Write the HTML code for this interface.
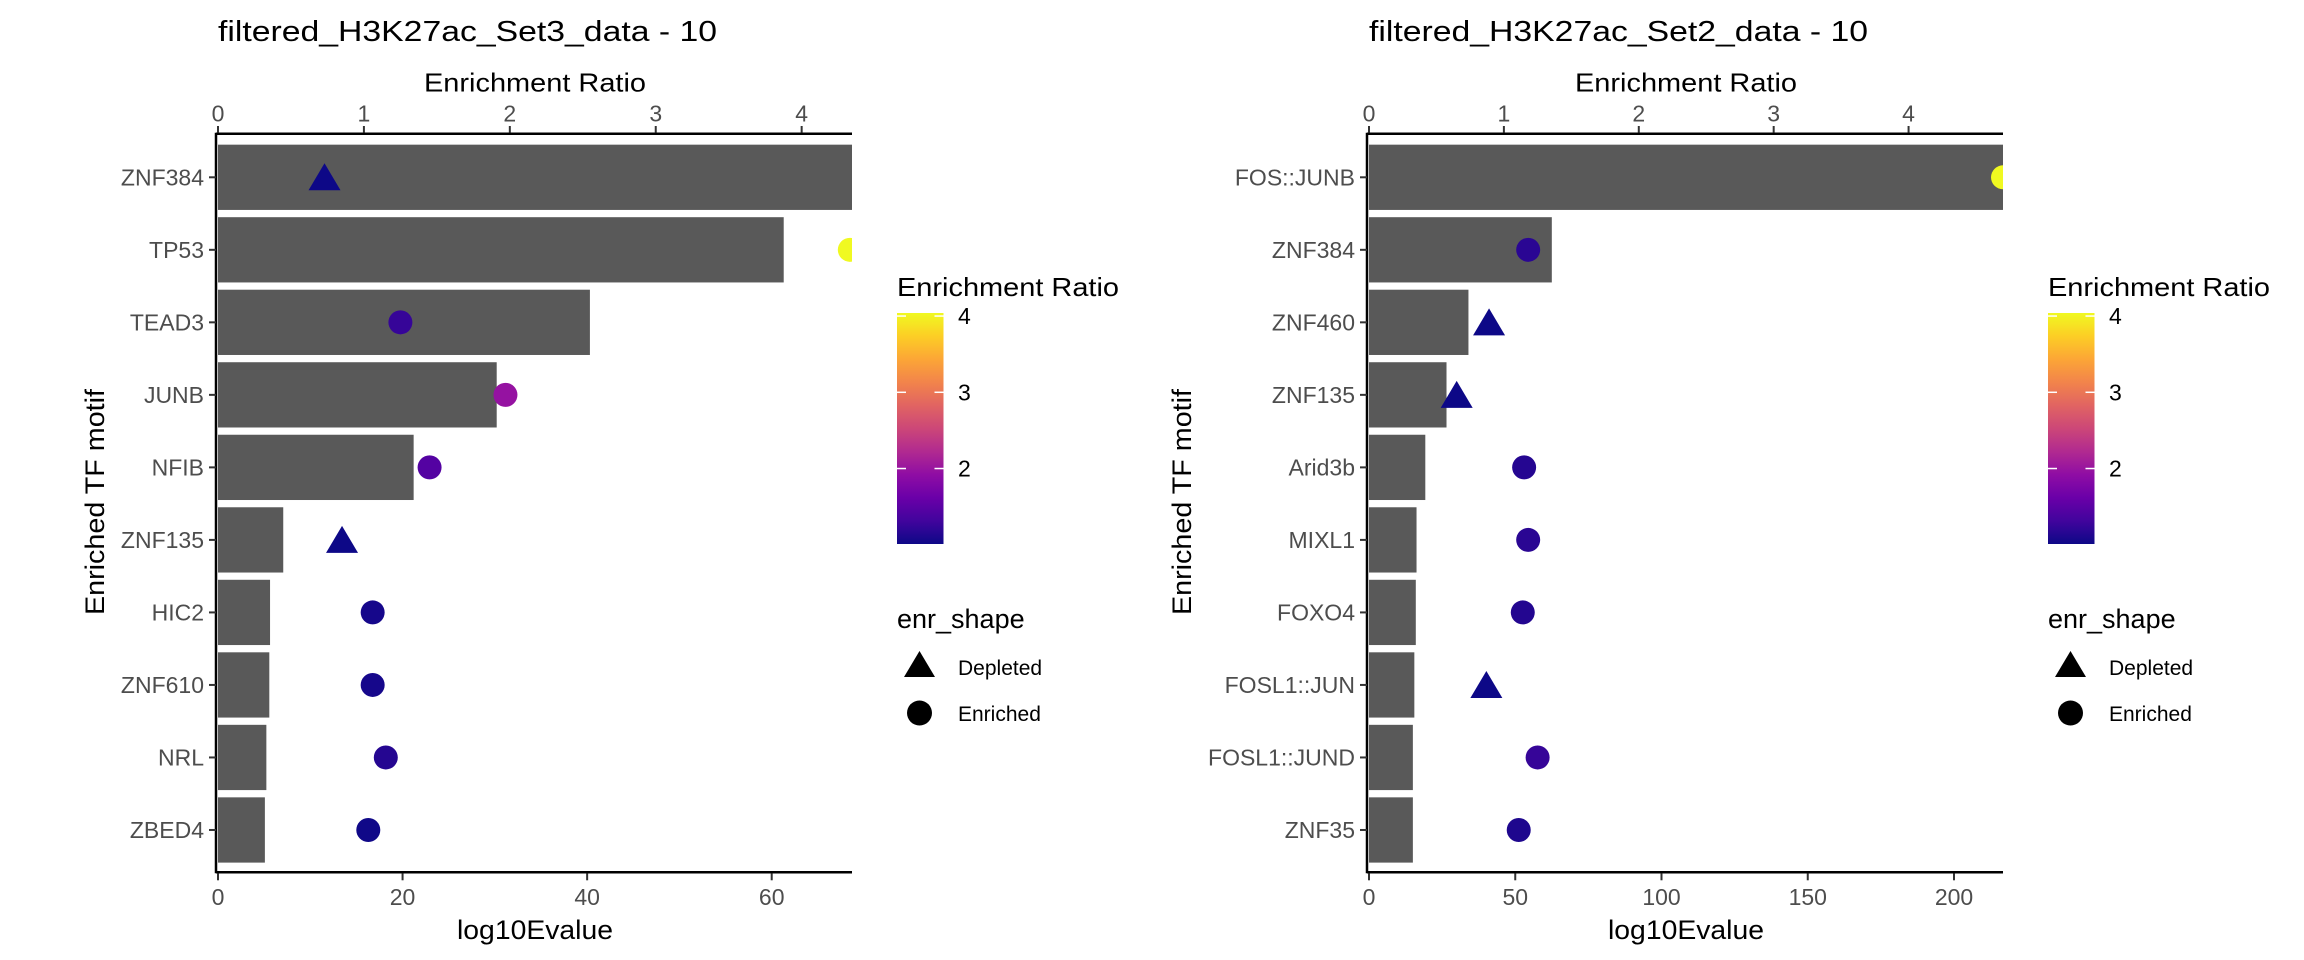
<!DOCTYPE html>
<html><head><meta charset="utf-8">
<style>
html,body{margin:0;padding:0;background:#fff;}
svg{display:block;font-family:"Liberation Sans",Arial,sans-serif;}
</style></head>
<body>
<svg id="chart" width="2304" height="960" viewBox="0 0 2304 960" xmlns="http://www.w3.org/2000/svg">
<defs>
<linearGradient id="plasma" x1="0" y1="1" x2="0" y2="0">
<stop offset="0" stop-color="#0d0887"/><stop offset="0.1" stop-color="#41049d"/><stop offset="0.2" stop-color="#6a00a8"/><stop offset="0.3" stop-color="#8f0da4"/><stop offset="0.4" stop-color="#b12a90"/><stop offset="0.5" stop-color="#cc4778"/><stop offset="0.6" stop-color="#e16462"/><stop offset="0.7" stop-color="#f2844b"/><stop offset="0.8" stop-color="#fca636"/><stop offset="0.9" stop-color="#fcce25"/><stop offset="1" stop-color="#f0f921"/>
</linearGradient>
</defs>
</svg>
<script>
// ---- Panel 1 data (Set3) ----
const motifs1 = ["ZNF384","TP53","TEAD3","JUNB","NFIB","ZNF135","HIC2","ZNF610","NRL","ZBED4"];
const evalue1 = [68.7,61.3,40.3,30.2,21.2,7.07,5.64,5.56,5.24,5.08];
const ratio1 = [0.73,4.33,1.25,1.97,1.45,0.85,1.06,1.06,1.15,1.03];
const shape1 = ["Depleted","Enriched","Enriched","Enriched","Enriched","Depleted","Enriched","Enriched","Enriched","Enriched"];
const xTicks1 = [0,20,40,60];
const erTicks1 = [0,1,2,3,4];
// ---- Panel 2 data (Set2) ----
const motifs2 = ["FOS::JUNB","ZNF384","ZNF460","ZNF135","Arid3b","MIXL1","FOXO4","FOSL1::JUN","FOSL1::JUND","ZNF35"];
const evalue2 = [216.75,62.5,34,26.5,19.25,16.25,16,15.5,15,15];
const ratio2 = [4.70,1.18,0.89,0.65,1.15,1.18,1.14,0.87,1.25,1.11];
const shape2 = ["Enriched","Enriched","Depleted","Depleted","Enriched","Enriched","Enriched","Depleted","Enriched","Enriched"];
const xTicks2 = [0,50,100,150,200];
const erTicks2 = [0,1,2,3,4];
const colorTicks = [2,3,4];
const colorMin = 1.01, colorMax = 4.04;

const NS = "http://www.w3.org/2000/svg";
const svg = document.getElementById('chart');
const plasma = ["#0d0887","#41049d","#6a00a8","#8f0da4","#b12a90","#cc4778","#e16462","#f2844b","#fca636","#fcce25","#f0f921"];
function hex(c){return [1,3,5].map(i=>parseInt(c.substr(i,2),16));}
function colorFor(v){
  let t=(v-colorMin)/(colorMax-colorMin); t=Math.max(0,Math.min(1,t));
  const p=t*10, i=Math.min(9,Math.floor(p)), f=p-i;
  const a=hex(plasma[i]), b=hex(plasma[i+1]);
  return "rgb("+a.map((x,k)=>Math.round(x+(b[k]-x)*f)).join(",")+")";
}
function el(tag, attrs, parent){
  const e=document.createElementNS(NS,tag);
  for(const k in attrs) e.setAttribute(k,attrs[k]);
  (parent||svg).appendChild(e); return e;
}
function txt(s, attrs, parent){const t=el('text',attrs,parent); t.textContent=s; return t;}

function panel(ox, id, title, motifs, evals, ratios, shapes, xTicks, erTicks, xMax, erMax){
  const L=ox+218, R=ox+852, T=133.7, B=872.3;
  const g=el('g',{});
  
  
  const xs=v=>L+(v/xMax)*(R-L);
  const es=v=>L+(v/erMax)*(R-L);
  const band=72.52, y0=177.3;
  const ys=i=>y0+i*band;
  const cp=el('clipPath',{id:'clip-'+id},g);
  el('rect',{x:L,y:T,width:R-L,height:B-T},cp);

  const t=txt(title,{x:L,y:41,'font-size':29,fill:'#000',textLength:499,lengthAdjust:'spacingAndGlyphs'},g);
  
  

  // bars
  motifs.forEach((m,i)=>{
    const r=el('rect',{x:L,y:ys(i)-band*0.45,width:xs(evals[i])-L,height:band*0.9,fill:'#595959','clip-path':'url(#clip-'+id+')'},g);
    
    
  });
  // points
  motifs.forEach((m,i)=>{
    const cx=es(ratios[i]), cy=ys(i), c=colorFor(ratios[i]);
    let p;
    if(shapes[i]==="Depleted"){
      p=el('polygon',{points:(cx-16)+','+(cy+13)+' '+(cx+16)+','+(cy+13)+' '+cx+','+(cy-14),fill:c,'clip-path':'url(#clip-'+id+')'},g);
    } else {
      p=el('circle',{cx:cx,cy:cy,r:12,fill:c,'clip-path':'url(#clip-'+id+')'},g);
    }
    
    
  });
  // axes lines
  const ax=el('path',{d:`M${L-2},${T} H${R} M${L-2},${B} H${R} M${L-2},${T-1} V${B+1}`,stroke:'#000','stroke-width':2.5,fill:'none'},g);
  
  
  // y labels
  motifs.forEach((m,i)=>{
    el('line',{x1:L-9,x2:L-2,y1:ys(i),y2:ys(i),stroke:'#333','stroke-width':2},g);
    const lb=txt(m,{x:L-14,y:ys(i)+8,'font-size':23,fill:'#4d4d4d','text-anchor':'end'},g);
    
    
  });
  // bottom ticks
  xTicks.forEach(v=>{
    const x=xs(v);
    el('line',{x1:x,x2:x,y1:B+1,y2:B+8,stroke:'#333','stroke-width':2},g);
    const lb=txt(String(v),{x:x,y:905,'font-size':23,fill:'#4d4d4d','text-anchor':'middle'},g);
    
    
  });
  // top ticks
  erTicks.forEach(v=>{
    const x=es(v);
    el('line',{x1:x,x2:x,y1:126,y2:T-1,stroke:'#333','stroke-width':2},g);
    const lb=txt(String(v),{x:x,y:121.7,'font-size':23,fill:'#4d4d4d','text-anchor':'middle'},g);
    
    
  });
  const xt=txt('log10Evalue',{x:(L+R)/2,y:939,'font-size':27,fill:'#000','text-anchor':'middle',textLength:156,lengthAdjust:'spacingAndGlyphs'},g);
  
  
  const tt=txt('Enrichment Ratio',{x:(L+R)/2,y:91.7,'font-size':26,fill:'#000','text-anchor':'middle',textLength:222,lengthAdjust:'spacingAndGlyphs'},g);
  
  
  const yx = id==='set3' ? ox+104 : ox+40;
  const yt=txt('Enriched TF motif',{x:yx,y:502,'font-size':27,fill:'#000','text-anchor':'middle',transform:`rotate(-90 ${yx} 502)`,textLength:226,lengthAdjust:'spacingAndGlyphs'},g);
  
  

  // color legend
  const lx=ox+897;
  const lt=txt('Enrichment Ratio',{x:lx,y:296,'font-size':26,fill:'#000',textLength:222,lengthAdjust:'spacingAndGlyphs'},g);
  
  
  const cb=el('rect',{x:lx,y:313,width:46.5,height:231,fill:'url(#plasma)'},g);
  
  
  const cy=v=>544-(v-colorMin)/(colorMax-colorMin)*231;
  colorTicks.forEach(v=>{
    const y=cy(v);
    el('line',{x1:lx,x2:lx+9,y1:y,y2:y,stroke:'#fff','stroke-width':1.5},g);
    el('line',{x1:lx+37.5,x2:lx+46.5,y1:y,y2:y,stroke:'#fff','stroke-width':1.5},g);
    const lb=txt(String(v),{x:ox+958,y:y+8,'font-size':23,fill:'#000'},g);
    
    
  });
  // shape legend
  const st=txt('enr_shape',{x:lx,y:628,'font-size':27,fill:'#000'},g);
  
  
  const tri=el('polygon',{points:`${ox+904},${677} ${ox+935},${677} ${ox+919.5},${651}`,fill:'#000'},g);
  
  
  const cir=el('circle',{cx:ox+919.5,cy:713,r:12.5,fill:'#000'},g);
  
  
  const d=txt('Depleted',{x:ox+958,y:675,'font-size':21,fill:'#000'},g);
  
  
  const e=txt('Enriched',{x:ox+958,y:721,'font-size':21,fill:'#000'},g);
  
  
}
panel(0,'set3','filtered_H3K27ac_Set3_data - 10',motifs1,evalue1,ratio1,shape1,xTicks1,erTicks1,68.7,4.345);
panel(1151,'set2','filtered_H3K27ac_Set2_data - 10',motifs2,evalue2,ratio2,shape2,xTicks2,erTicks2,216.75,4.70);
</script>
</body></html>
